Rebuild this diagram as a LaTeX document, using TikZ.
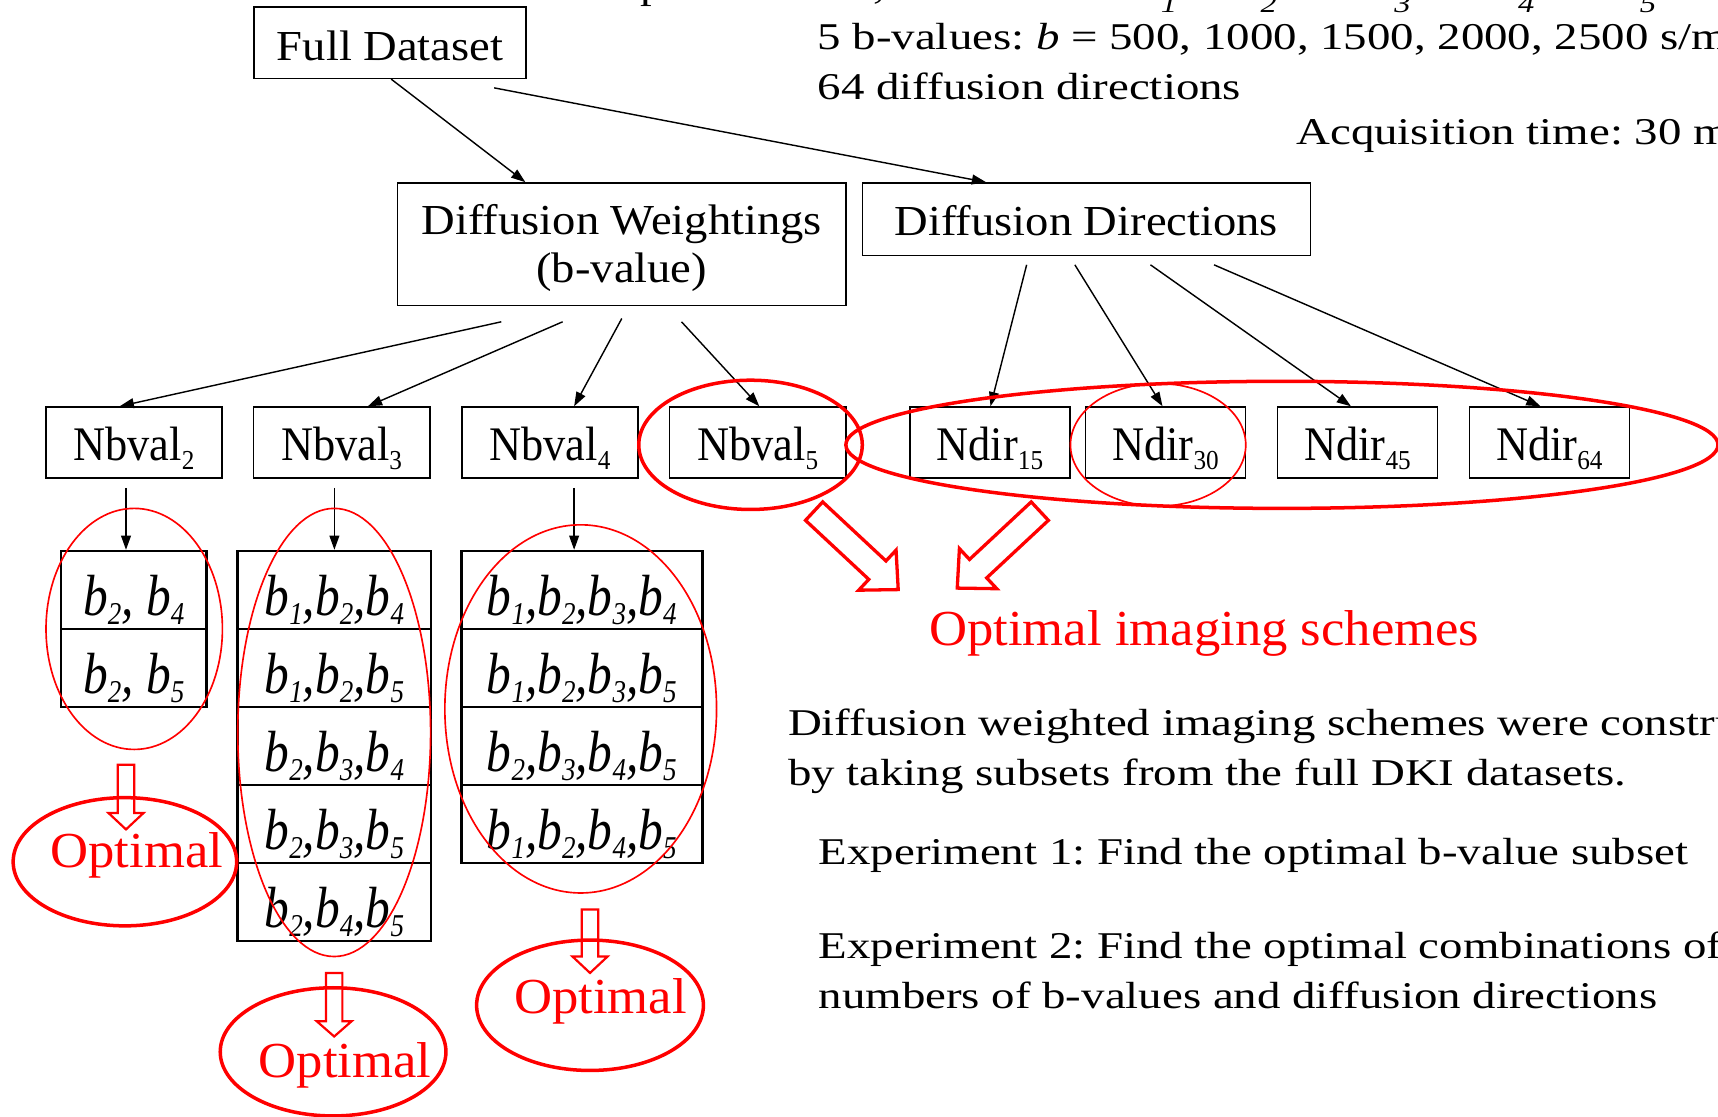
\documentclass[tikz,border=0pt]{standalone}
\usepackage{fontspec}
\setmainfont{Liberation Serif}
\newfontfamily\fNode{Liberation Serif}[FakeStretch=1.09]
\newfontfamily\fNarrow{Liberation Serif}[FakeStretch=0.92]
\newfontfamily\fItal{Liberation Serif}[FakeStretch=0.85]
\newfontfamily\fBody{Liberation Serif}[FakeStretch=1.24]
\newfontfamily\fRed{Liberation Serif}[FakeStretch=1.045]
\usetikzlibrary{arrows.meta}
\frenchspacing

\newcommand\nsub[1]{\raisebox{-8pt}{\fontsize{25}{25}\selectfont #1}}
\newcommand\bsub[1]{b\raisebox{-8pt}{\fontsize{29}{29}\selectfont #1}}
\newcommand\topb[1]{\textit{b}\raisebox{-12pt}{\fontsize{24}{24}\selectfont\itshape #1}}
% style, x, y, angle, length, shaft half width, head half width, head length
\newcommand\hollowarrow[8]{%
  \begin{scope}[shift={(#2,#3)}, rotate=#4]
    \draw[#1] (0,#6) -- ({#5-#8},#6) -- ({#5-#8},#7) -- (#5,0) -- ({#5-#8},-#7) -- ({#5-#8},-#6) -- (0,-#6) -- cycle;
  \end{scope}}

\begin{document}
\begin{tikzpicture}[x=1pt, y=-1pt,
  box/.style={draw, line width=1.4pt, inner sep=0pt},
  toplabel/.style={box, font=\fNode\fontsize{39}{44}\selectfont},
  nb/.style={box, minimum width=161pt, minimum height=65pt, text height=33pt, text depth=0pt, font=\fNarrow\fontsize{44}{44}\selectfont},
  nd/.style={nb, minimum width=146pt},
  cell/.style={draw, line width=2.4pt, inner sep=0pt, minimum height=71.2pt, text height=47pt, text depth=0pt, font=\fItal\itshape\fontsize{53}{53}\selectfont},
  conn/.style={line width=1.3pt, -{Triangle[length=13pt,width=9pt]}},
  thick ring/.style={red, line width=3.2pt},
  thin ring/.style={red, line width=1.5pt},
  body/.style={anchor=base west, inner sep=0pt, font=\fBody\fontsize{34.5}{34.5}\selectfont},
  redtext/.style={anchor=base west, inner sep=0pt, text=red, font=\fRed\fontsize{46}{46}\selectfont},
]
\useasboundingbox (0,0) rectangle (1568,1019);
\clip (0,0) rectangle (1568,1019);

% top text (partly cut off)
\node[body] (l0) at (501,-1) {Complete dataset, each with};
\node[body] (tb1) at (1038,-1) {\topb{1}};
\node[body] (tb2) at (1129,-1) {\topb{2}};
\node[body] (tb3) at (1251,-1) {\topb{3}};
\node[body] (tb4) at (1364,-1) {\topb{4}};
\node[body] (tb5) at (1475,-1) {\topb{5}};
\node[body] (l1) at (746,45) {5 b-values: \textit{b} = 500, 1000, 1500, 2000, 2500 s/mm\textsuperscript{2}};
\node[body] (l2) at (746,91) {64 diffusion directions};
\node[body] (l3) at (1183,132) {Acquisition time: 30 min};

% main boxes
\node[toplabel, minimum width=248pt, minimum height=65pt, text height=32pt, text depth=0pt] (fd) at (356,39) {Full Dataset};
\node[toplabel, minimum width=409pt, minimum height=112pt, text height=74pt, text depth=4pt, align=center] (dw) at (567.5,223) {Diffusion Weightings\\(b-value)};
\node[toplabel, minimum width=409pt, minimum height=66pt, text height=29pt, text depth=0pt] (dd) at (991.5,200) {Diffusion Directions};

\node[nb] (nb2) at (122.25,404) {Nbval\nsub{2}};
\node[nb] (nb3) at (311.75,404) {Nbval\nsub{3}};
\node[nb] (nb4) at (502,404) {Nbval\nsub{4}};
\node[nb] (nb5) at (691.5,404) {Nbval\nsub{5}};
\node[nd] (nd15) at (903.5,404) {Ndir\nsub{15}};
\node[nd] (nd30) at (1063.7,404) {Ndir\nsub{30}};
\node[nd] (nd45) at (1239,404) {Ndir\nsub{45}};
\node[nd] (nd64) at (1414,404) {Ndir\nsub{64}};

% tables
\node[cell, minimum width=133pt] (t1a) at (122.15,538.6) {\bsub{2}, \bsub{4}};
\node[cell, minimum width=133pt] (t1b) at (122.15,609.8) {\bsub{2}, \bsub{5}};

\node[cell, minimum width=176.4pt] (t2a) at (305.2,538.6) {\bsub{1},\bsub{2},\bsub{4}};
\node[cell, minimum width=176.4pt] (t2b) at (305.2,609.8) {\bsub{1},\bsub{2},\bsub{5}};
\node[cell, minimum width=176.4pt] (t2c) at (305.2,681) {\bsub{2},\bsub{3},\bsub{4}};
\node[cell, minimum width=176.4pt] (t2d) at (305.2,752.2) {\bsub{2},\bsub{3},\bsub{5}};
\node[cell, minimum width=176.4pt] (t2e) at (305.2,823.4) {\bsub{2},\bsub{4},\bsub{5}};

\node[cell, minimum width=220pt] (t3a) at (531,538.6) {\bsub{1},\bsub{2},\bsub{3},\bsub{4}};
\node[cell, minimum width=220pt] (t3b) at (531,609.8) {\bsub{1},\bsub{2},\bsub{3},\bsub{5}};
\node[cell, minimum width=220pt] (t3c) at (531,681) {\bsub{2},\bsub{3},\bsub{4},\bsub{5}};
\node[cell, minimum width=220pt] (t3d) at (531,752.2) {\bsub{1},\bsub{2},\bsub{4},\bsub{5}};

% connectors
\draw[conn] ([xshift=1pt]fd.south) -- ([xshift=-88pt]dw.north);
\draw[conn] ([xshift=95pt,yshift=-8pt]fd.south) -- ([xshift=-91.5pt]dd.north);
\draw[conn] ([xshift=-110pt,yshift=-14pt]dw.south) -- ([xshift=-13pt]nb2.north);
\draw[conn] ([xshift=-54pt,yshift=-14pt]dw.south) -- ([xshift=24pt]nb3.north);
\draw[conn] ([yshift=-11pt]dw.south) -- ([xshift=22pt]nb4.north);
\draw[conn] ([xshift=54.5pt,yshift=-14pt]dw.south) -- ([xshift=1.5pt]nb5.north);
\draw[conn] ([xshift=-54.5pt,yshift=-8pt]dd.south) -- ([xshift=0.5pt]nd15.north);
\draw[conn] ([xshift=-10.5pt,yshift=-8pt]dd.south) -- ([xshift=-2.7pt]nd30.north);
\draw[conn] ([xshift=58.5pt,yshift=-8pt]dd.south) -- ([xshift=-6pt]nd45.north);
\draw[conn] ([xshift=116.5pt,yshift=-8pt]dd.south) -- ([xshift=-8pt]nd64.north);
\draw[conn] ([xshift=-7.25pt,yshift=-8pt]nb2.south) -- ([xshift=-7.15pt]t1a.north);
\draw[conn] ([xshift=-6.55pt,yshift=-8pt]nb3.south) -- (t2a.north);
\draw[conn] ([xshift=22pt,yshift=-8pt]nb4.south) -- ([xshift=-7pt]t3a.north);

% red rings
\draw[thick ring] (685,406) ellipse [x radius=102pt, y radius=59pt];
\draw[thick ring] (1170,406) ellipse [x radius=398pt, y radius=58pt];
\draw[thin ring] (1057,406) ellipse [x radius=80pt, y radius=56pt];
\draw[thin ring] (122.5,574) ellipse [x radius=80.5pt, y radius=110pt];
\draw[thin ring] (305,668.5) ellipse [x radius=88pt, y radius=204.5pt];
\draw[thin ring] (530,647) ellipse [x radius=124pt, y radius=168pt];
\draw[thick ring] (114,786.5) ellipse [x radius=102pt, y radius=58.5pt];
\draw[thick ring] (304,960) ellipse [x radius=103pt, y radius=58.5pt];
\draw[thick ring] (538.5,917.5) ellipse [x radius=103.5pt, y radius=59.5pt];

% hollow arrows
\hollowarrow{red, line width=2pt}{115}{698}{-90}{59}{7.5}{16}{15}
\hollowarrow{red, line width=2pt}{305}{888}{-90}{58}{7.5}{16}{14}
\hollowarrow{red, line width=2pt}{538.5}{830}{-90}{58}{7.5}{16}{15}
\hollowarrow{red, line width=3pt, line join=miter}{743}{466.5}{-43}{105}{11.5}{25}{26}
\hollowarrow{red, line width=3pt, line join=miter}{949}{466.5}{-137}{103}{11.5}{25}{26}

% red labels
\node[redtext] (ois) at (848,589) {Optimal imaging schemes};
\node[redtext] (opt1) at (46,792) {Optimal};
\node[redtext] (opt2) at (236,983) {Optimal};
\node[redtext] (opt3) at (469,925) {Optimal};

% body text
\node[body] (p1) at (719,671) {Diffusion weighted imaging schemes were constructed};
\node[body] (p2) at (719,717) {by taking subsets from the full DKI datasets.};
\node[body] (e1) at (747,789) {Experiment 1: Find the optimal b-value subset};
\node[body] (e2) at (747,874.5) {Experiment 2: Find the optimal combinations of};
\node[body] (e3) at (747,920) {numbers of b-values and diffusion directions};
\end{tikzpicture}
\end{document}
